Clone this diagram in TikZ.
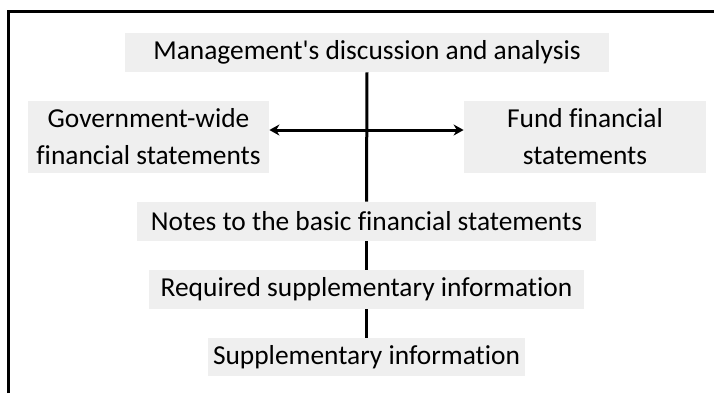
\documentclass[tikz,border=0pt]{standalone}
\usepackage{fontspec}
\setmainfont{Carlito}[Ligatures={NoCommon,NoDiscretionary}]
\usetikzlibrary{arrows.meta}
\definecolor{boxgray}{HTML}{EFEFEF}
\begin{document}
\begin{tikzpicture}[x=0.5pt, y=-0.5pt,
                    part/.style={fill=boxgray, inner sep=0pt, minimum height=19.5pt, align=center, font=\fontsize{13.7}{18.5}\selectfont},
                    link/.style={line width=1.5pt}]
                    \useasboundingbox (0,0) rectangle (714,393);
                    \draw[line width=1.5pt] (8.5,393) -- (8.5,11.5) -- (714,11.5);
                    \node[part, minimum width=242pt] (MDA) at (367,52.5) {Management\textquotesingle s discussion and analysis};
                    \node[part, minimum width=120.5pt, minimum height=36pt] (GOV) at (148.5,137) {Government-wide\\financial statements};
                    \node[part, minimum width=121pt, minimum height=36pt] (FUND) at (585,137) {Fund financial\\statements};
                    \node[part, minimum width=229.5pt] (NOTES) at (366.5,221.5) {Notes to the basic financial statements};
                    \node[part, minimum width=217.5pt] (RSI) at (366.5,289.5) {Required supplementary information};
                    \node[part, minimum width=158.5pt, minimum height=19pt] (SI) at (366.5,357) {Supplementary information};
                    \draw[link] (MDA.south) -- (NOTES.north);
                    \draw[link] (NOTES.south) -- (RSI.north);
                    \draw[link] (RSI.south) -- (SI.north);
                    \draw[link, {Stealth[length=5pt,width=5.5pt]}-{Stealth[length=5pt,width=5.5pt]}] ([yshift=3.5pt]GOV.east) -- ([yshift=3.5pt]FUND.west);
                  \end{tikzpicture}
\end{document}
